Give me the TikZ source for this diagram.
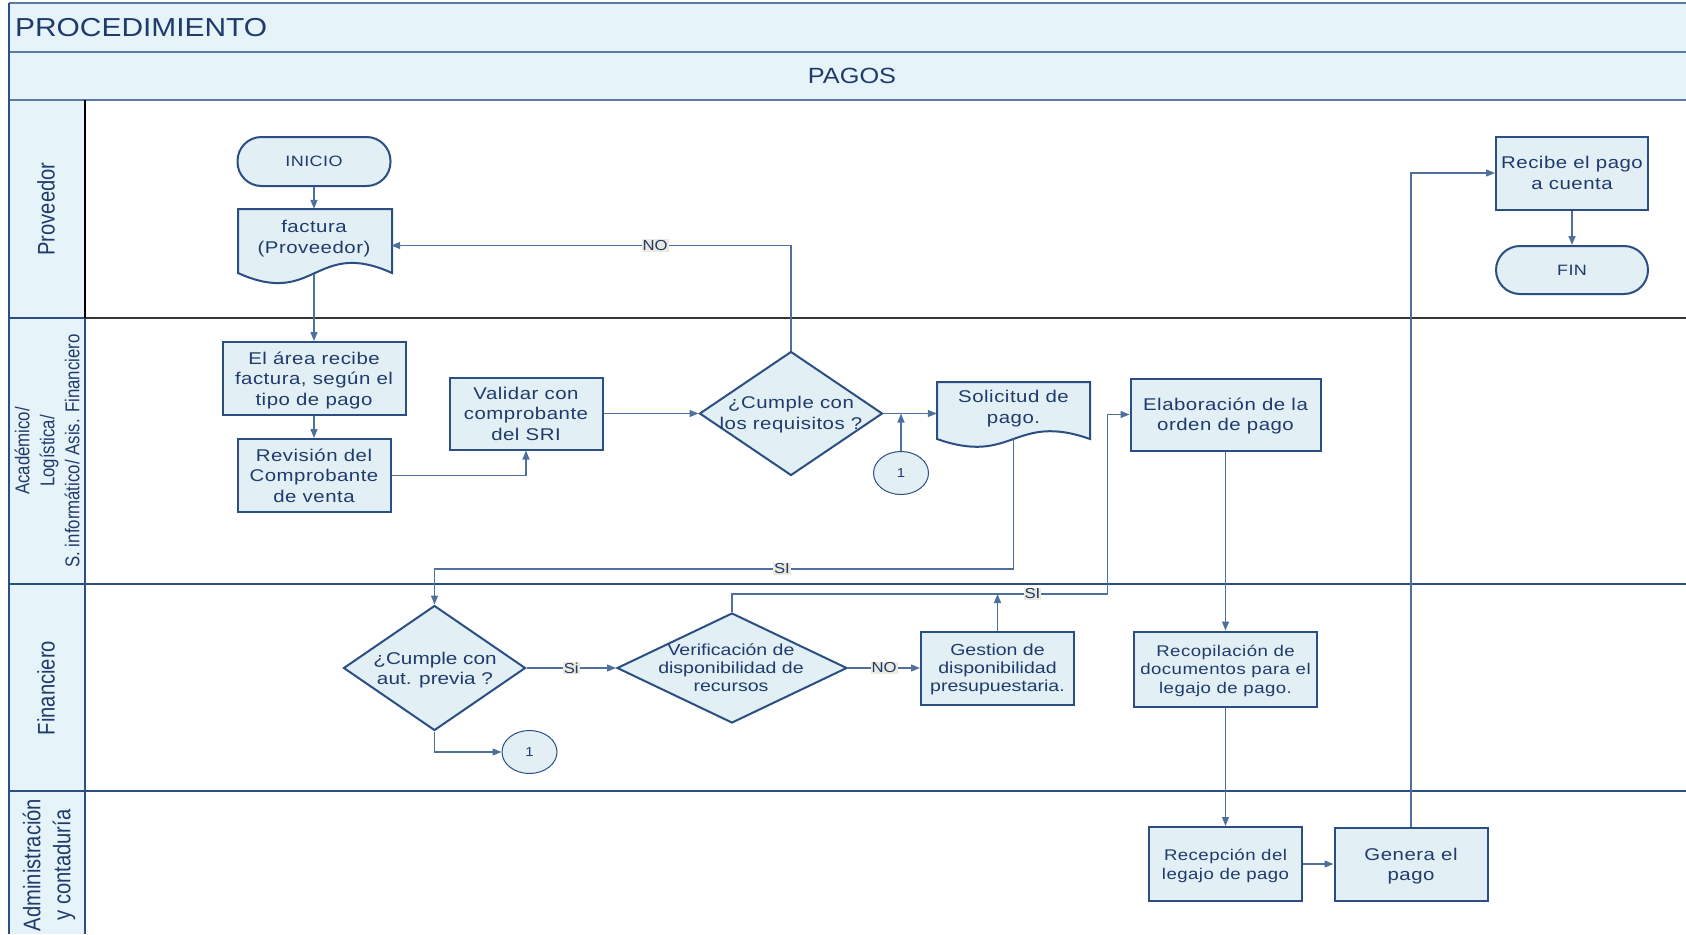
\documentclass[tikz,border=0pt]{standalone}
\usepackage{fontspec}
\setmainfont{Liberation Sans}
\newfontfamily\bxfont[FakeStretch=1.2,LetterSpace=3]{Liberation Sans}
\newfontfamily\fnfont[FakeStretch=1.22]{Liberation Sans}
\newfontfamily\hdfont[FakeStretch=1.15]{Liberation Sans}
\newfontfamily\lanefont[FakeStretch=0.84]{Liberation Sans}
\usetikzlibrary{arrows.meta,shapes.geometric,calc}

\definecolor{navy}{HTML}{1F3B6B}
\definecolor{edgec}{HTML}{2B4F82}
\definecolor{wirec}{HTML}{4F6F9C}
\definecolor{pale}{HTML}{E2EFF5}
\definecolor{headbg}{HTML}{E6F3F8}
\definecolor{rulec}{HTML}{5A7AA3}
\definecolor{tagbg}{HTML}{ECE9DE}

\tikzset{
  every node/.style={text=navy},
  box/.style={draw=edgec, fill=pale, line width=2pt, rectangle, align=center, inner sep=0pt,
    text depth=0pt, font=\bxfont\fontsize{17}{20.4}\selectfont},
  smallbox/.style={box, font=\bxfont\fontsize{15.5}{18.3}\selectfont},
  term/.style={box, rounded corners=24pt, font=\bxfont\fontsize{15}{18}\selectfont},
  doctext/.style={align=center, inner sep=0pt, text depth=0pt, font=\bxfont\fontsize{17}{21}\selectfont},
  diam/.style={draw=edgec, fill=pale, line width=2pt, diamond, inner sep=0pt},
  dtext/.style={align=center, inner sep=0pt, text depth=0pt, font=\bxfont\fontsize{17}{20.5}\selectfont},
  dfin/.style={dtext, font=\fnfont\fontsize{17}{20.5}\selectfont},
  dsmall/.style={dtext, font=\fnfont\fontsize{16}{18}\selectfont},
  conn/.style={ellipse, draw=edgec, line width=1pt, fill=pale, minimum width=55pt,
    minimum height=43pt, inner sep=0pt, font=\hdfont\fontsize{13}{15}\selectfont},
  lbl/.style={fill=tagbg, inner sep=1pt, font=\hdfont\fontsize{14.5}{16}\selectfont},
  lanelbl/.style={rotate=90, align=center, inner sep=0pt, font=\lanefont\fontsize{24}{30}\selectfont},
  wire/.style={draw=wirec, line width=1.3pt},
  arr/.style={wire, -{Triangle[length=9pt,width=7pt]}},
}

% document symbol: x0, top, x1, bottom of the sides, wave amplitude
\newcommand\docshape[5]{%
  \filldraw[draw=edgec, fill=pale, line width=2pt]
    (#1,#4) -- (#1,#2) -- (#3,#2) -- (#3,#4)
    .. controls ($(#1,#4)!.5!(#3,#4)+(0,-#5)$) and ($(#1,#4)!.5!(#3,#4)+(0,#5)$) .. (#1,#4) -- cycle;}

\begin{document}
\begin{tikzpicture}[x=1pt,y=-1pt]
\useasboundingbox (0,0) rectangle (1686,934);

% header and lane label column
\fill[headbg] (9,3) rectangle (1686,100);
\fill[headbg] (9,100) rectangle (85,934);
\draw[rulec, line width=1.5pt] (9,3) -- (1686,3);
\draw[rulec, line width=1.2pt] (9,52) -- (1686,52);
\draw[rulec, line width=2.5pt] (9,100) -- (1686,100);

% lane separators
\draw[edgec, line width=1.3pt] (9,318) -- (85,318);
\draw[black!80, line width=1.3pt] (85,318) -- (1686,318);
\draw[edgec, line width=1.3pt] (9,584) -- (1686,584);
\draw[edgec, line width=1.3pt] (9,791) -- (1686,791);
\draw[edgec, line width=2pt] (9,3) -- (9,934);
\draw[black, line width=1.3pt] (85,100) -- (85,318);
\draw[edgec, line width=1.3pt] (85,318) -- (85,934);

% titles
\node[anchor=west, inner sep=0pt, font=\hdfont\fontsize{26}{30}\selectfont] (title) at (15,27.5) {PROCEDIMIENTO};
\node[inner sep=0pt, font=\hdfont\fontsize{22}{26}\selectfont] (sub) at (852,75.5) {PAGOS};

% lane names
\node[lanelbl] (lp) at (46,209) {Proveedor};
\node[lanelbl, font=\lanefont\fontsize{20}{25}\selectfont] (la) at (47,451)
  {Académico/\\Logística/\\S. informático/ Asis. Financiero};
\node[lanelbl] (lf) at (46,688) {Financiero};
\node[lanelbl] (lad) at (49,865) {Administración\\y contaduría};

% Proveedor
\node[term, minimum width=153pt, minimum height=49pt] (ini) at (314,161.5) {INICIO};
\docshape{238}{209}{392}{273}{35}
\node[doctext, minimum width=154pt, minimum height=55pt] (fact) at (314,236.5) {factura\\(Proveedor)};
\node[box, minimum width=152pt, minimum height=73pt] (rec) at (1572,173) {Recibe el pago\\a cuenta};
\node[term, minimum width=152pt, minimum height=48pt] (fin) at (1572,270) {FIN};

% Académico / Logística / S. informático / Asis. Financiero
\node[box, minimum width=183pt, minimum height=73pt] (area) at (314,378.5) {El área recibe\\factura, según el\\tipo de pago};
\node[box, minimum width=153pt, minimum height=73pt] (rev) at (314,475.5) {Revisión del\\Comprobante\\de venta};
\node[box, minimum width=153pt, minimum height=72pt] (val) at (526,413.5) {Validar con\\comprobante\\del SRI};
\node[diam, minimum width=183pt, minimum height=124pt] (d1) at (791,413.5) {};
\node[dtext] (d1t) at (791,413) {¿Cumple con\\los requisitos ?};
\node[conn] (c1) at (901,473) {1};
\docshape{937}{382}{1090}{439}{27}
\node[doctext, minimum width=153pt, minimum height=50pt] (sol) at (1013.5,407) {Solicitud de\\pago.};
\node[box, minimum width=190pt, minimum height=72pt] (elab) at (1225.5,414.5) {Elaboración de la\\orden de pago};

% Financiero
\node[diam, minimum width=182pt, minimum height=125pt] (d2) at (434.5,668) {};
\node[dfin] (d2t) at (435,668.5) {¿Cumple con\\aut. previa ?};
\node[conn] (c2) at (529.5,752) {1};
\node[diam, minimum width=230pt, minimum height=110pt] (d3) at (732,668) {};
\node[dsmall] (d3t) at (731,668) {Verificación de\\disponibilidad de\\recursos};
\node[box, minimum width=153pt, minimum height=73pt, font=\fnfont\fontsize{16}{18}\selectfont] (ges) at (997.5,668) {Gestion de\\disponibilidad\\presupuestaria.};
\node[smallbox, minimum width=183pt, minimum height=75pt] (reco) at (1225.5,669) {Recopilación de\\documentos para el\\legajo de pago.};

% Administración y contaduría
\node[smallbox, minimum width=153pt, minimum height=74pt, font=\bxfont\fontsize{15.5}{19}\selectfont] (recep) at (1225.5,864) {Recepción del\\legajo de pago};
\node[box, minimum width=153pt, minimum height=73pt, font=\bxfont\fontsize{17}{20}\selectfont] (gen) at (1411,864) {Genera el\\pago};

% routing points
\coordinate (siA) at (0,569);
\coordinate (siB) at (1107.6,594);

% connectors
\draw[arr] (ini.south) -- (fact.north);
\draw[arr] ([yshift=-9.5pt]fact.south) -- (area.north);
\draw[arr] (area.south) -- (rev.north);
\draw[arr] (rev.east) -| (val.south);
\draw[arr] (val.east) -- (d1.west);
\draw[arr] (d1.north) |- node[lbl, pos=0.67] {NO} ([yshift=-9pt]fact.east);
\draw[arr] (d1.east) -- (d1.east -| sol.west);
\draw[arr] (c1.north) -- (c1.north |- d1.east);
\draw[arr] ([yshift=-7pt]sol.south) -- (sol.south |- siA) -| node[lbl, pos=0.2] {SI} (d2.north);
\draw[arr] (d2.east) -- node[lbl] {Si} (d3.west);
\draw[arr] (d3.east) -- node[lbl] {NO} (ges.west);
\draw[arr] (d2.south) |- (c2.west);
\draw[arr] (d3.north) |- node[lbl, pos=0.9] {SI} (siB) |- (elab.west);
\draw[arr] (ges.north) -- (ges.north |- siB);
\draw[arr] (elab.south) -- (reco.north);
\draw[arr] (reco.south) -- (recep.north);
\draw[arr] (recep.east) -- (gen.west);
\draw[arr] (gen.north) |- (rec.west);
\draw[arr] (rec.south) -- (fin.north);
\end{tikzpicture}
\end{document}
